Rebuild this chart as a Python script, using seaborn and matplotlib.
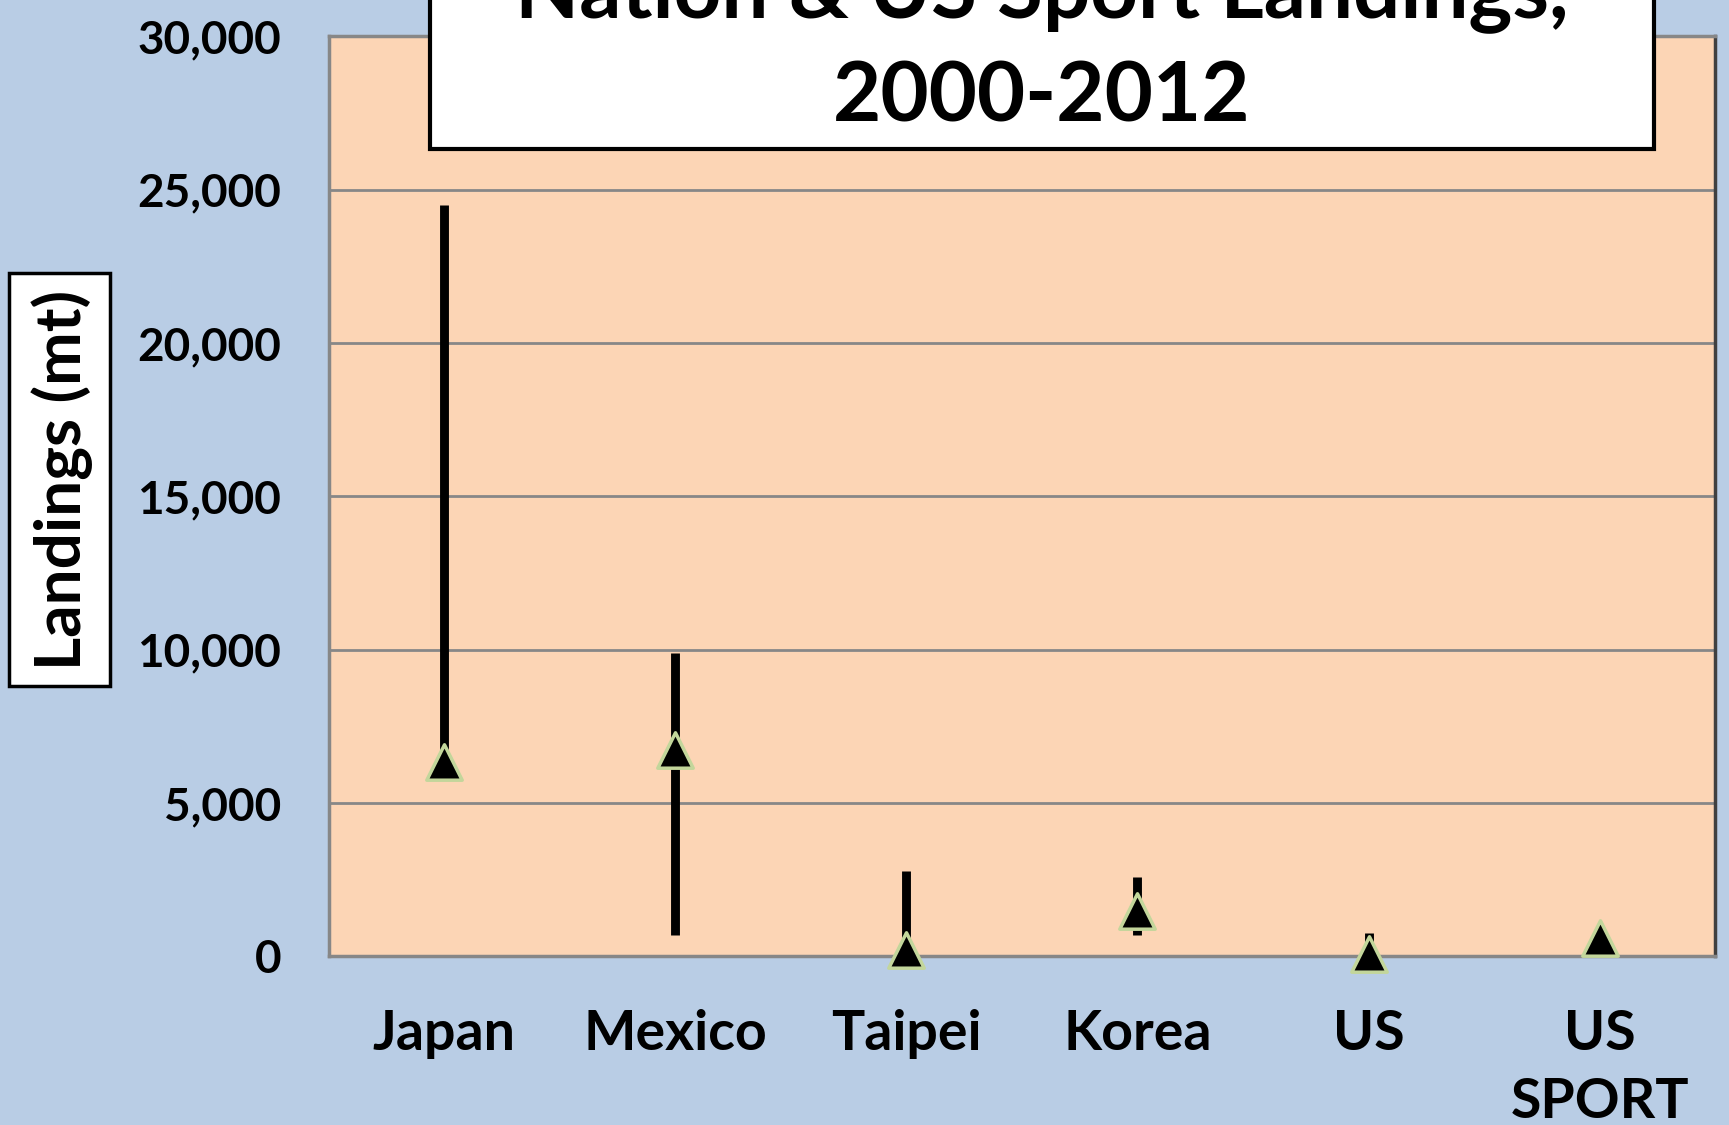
import matplotlib
matplotlib.use("Agg")
import matplotlib.pyplot as plt
import matplotlib.ticker as mticker
from matplotlib.patches import Rectangle
import numpy as np
import seaborn as sns
import pandas as pd

# values (landings, mt)
nations = ['Japan', 'Mexico', 'Taipei', 'Korea', 'US', 'US\nSPORT']
high_vals = [24500, 9900, 2770, 2600, 760, 610]
low_vals = [6200, 680, 150, 680, 0, 610]
mean_vals = [6330, 6730, 220, 1470, 70, 610]
y_ticks = [0, 5000, 10000, 15000, 20000, 25000, 30000]

df = pd.DataFrame({'nation': nations, 'high': high_vals, 'low': low_vals, 'mean': mean_vals})

sns.set_theme(style='white')
plt.rcParams['font.family'] = ['Lato', 'DejaVu Sans']
plt.rcParams['font.weight'] = 'bold'
plt.rcParams['text.color'] = 'black'
plt.rcParams['xtick.color'] = 'black'
plt.rcParams['ytick.color'] = 'black'

bg = '#B9CDE5'
fig = plt.figure(figsize=(17.29, 11.25), dpi=100, facecolor=bg)
ax = fig.add_axes([0.190, 0.150, 0.802, 0.8176])
ax.set_facecolor('#FCD5B5')

# high-low range lines
xpos = np.arange(len(nations))
ax.vlines(xpos, df['low'], df['high'], color='black', lw=6.4, capstyle='butt', zorder=3)

# mean markers
sns.scatterplot(data=df, x=xpos, y='mean', marker='^', s=650, color='black',
                edgecolor='#C3D69B', linewidth=2.5, ax=ax, zorder=4, clip_on=False, legend=False)

ax.set_xlim(-0.5, len(nations) - 0.5)
ax.set_ylim(0, 30000)
ax.set_yticks(y_ticks)
ax.yaxis.set_major_formatter(mticker.FuncFormatter(lambda v, p: f'{int(v):,}'))
ax.set_xticks(xpos)
ax.set_xticklabels(nations, fontsize=40, fontweight='bold', linespacing=1.45, color='black')
ax.tick_params(axis='y', labelsize=33, pad=34, length=0, labelcolor='black')
ax.tick_params(axis='x', pad=38, length=0)
for lab in ax.get_yticklabels():
    lab.set_fontweight('bold')

ax.grid(axis='y', color='#878787', lw=2)
ax.set_axisbelow(True)
ax.set_xlabel('')
ax.set_ylabel('')
for side in ['left', 'bottom', 'top']:
    ax.spines[side].set_color('#878787')
    ax.spines[side].set_linewidth(2.5)
ax.spines['right'].set_color('#404040')
ax.spines['right'].set_linewidth(2.5)

# y label box
fig.add_artist(Rectangle((0.0051, 0.390), 0.0587, 0.367, transform=fig.transFigure,
                         facecolor='white', edgecolor='black', lw=2.5, zorder=5))
fig.text(0.0357, 0.5735, 'Landings (mt)', rotation=90, ha='center', va='center',
         fontsize=46, fontweight='bold', color='black', zorder=6)

# title box (runs off the top of the figure)
fig.add_artist(Rectangle((0.2487, 0.8676), 0.7079, 0.3, transform=fig.transFigure,
                         facecolor='white', edgecolor='black', lw=3, zorder=5))
fig.text(0.6027, 0.985, 'Nation & US Sport Landings,', ha='center', va='baseline',
         fontsize=60, fontweight='bold', color='black', zorder=6)
fig.text(0.6027, 0.892, '2000-2012', ha='center', va='baseline',
         fontsize=60, fontweight='bold', color='black', zorder=6)

fig.savefig('out.png', dpi=100, facecolor=bg)
